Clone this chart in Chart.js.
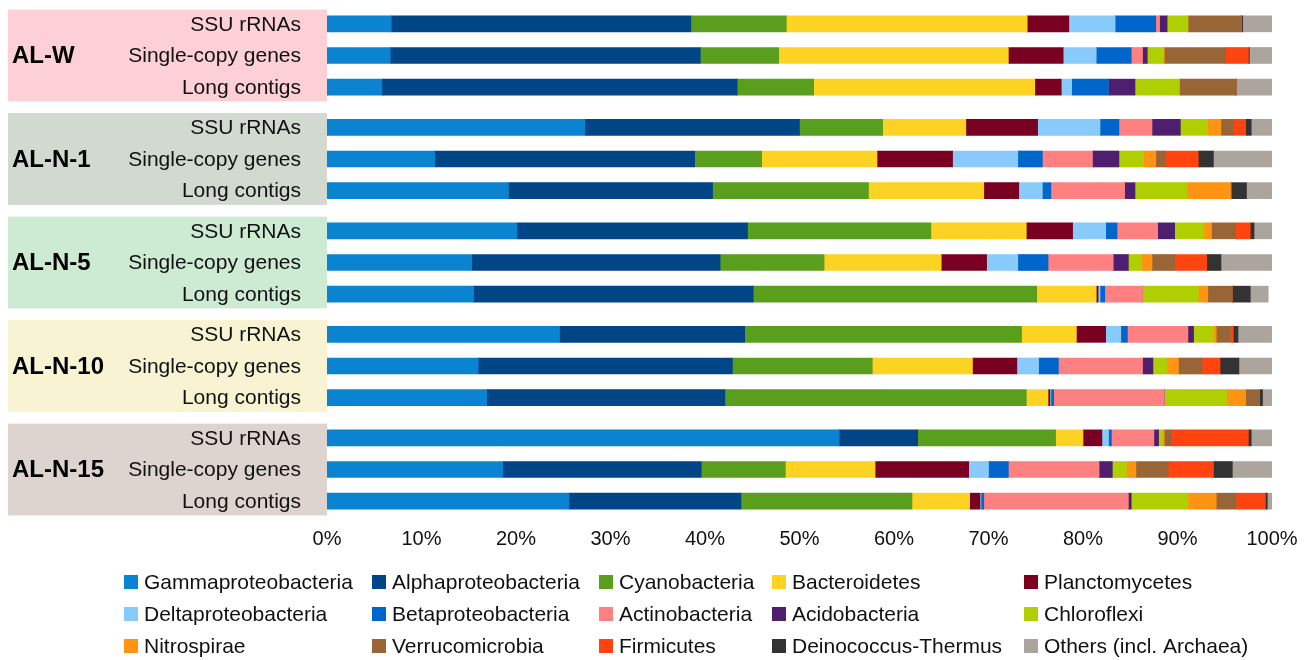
<!DOCTYPE html>
<html>
<head>
<meta charset="utf-8">
<title>AL community composition</title>
<script src="https://cdn.jsdelivr.net/npm/chart.js@4.4.1/dist/chart.umd.min.js"></script>
<style>
  html, body { margin: 0; padding: 0; background: #fff; }
  #wrap { width: 1313px; height: 660px; }
</style>
</head>
<body>
<div id="wrap"><canvas id="chart" width="1313" height="660"></canvas></div>
<script>
// Samples and methods (rows, top to bottom)
const samples = ['AL-W', 'AL-N-1', 'AL-N-5', 'AL-N-10', 'AL-N-15'];
const methods = ['SSU rRNAs', 'Single-copy genes', 'Long contigs'];
const xTicks = [0, 10, 20, 30, 40, 50, 60, 70, 80, 90, 100];

// Relative abundance (%) per taxon, one value per row (5 samples x 3 methods)
const gamma    = [6.8, 6.7, 5.8, 27.3, 11.4, 19.2, 20.1, 15.3, 15.5, 24.6, 16.0, 16.9, 54.2, 18.6, 25.6];
const alpha    = [31.7, 32.8, 37.6, 22.7, 27.5, 21.6, 24.4, 26.3, 29.6, 19.6, 26.9, 25.2, 8.3, 21.0, 18.2];
const cyano    = [10.1, 8.3, 8.1, 8.8, 7.1, 16.5, 19.4, 11.0, 30.0, 29.3, 14.8, 31.9, 14.6, 8.9, 18.1];
const bactero  = [25.5, 24.3, 23.4, 8.8, 12.2, 12.2, 10.1, 12.4, 6.3, 5.8, 10.6, 2.3, 2.9, 9.5, 6.1];
const plancto  = [4.4, 5.8, 2.8, 7.6, 8.0, 3.7, 4.9, 4.8, 0.2, 3.1, 4.7, 0.2, 2.0, 9.9, 1.1];
const delta    = [4.9, 3.5, 1.1, 6.6, 6.9, 2.5, 3.5, 3.3, 0.2, 1.6, 2.3, 0.1, 0.7, 2.1, 0.1];
const beta     = [4.3, 3.7, 3.9, 2.0, 2.6, 0.9, 1.2, 3.2, 0.5, 0.7, 2.1, 0.3, 0.3, 2.1, 0.3];
const actino   = [0.4, 1.2, 0, 3.5, 5.3, 7.8, 4.3, 6.9, 4.0, 6.4, 8.9, 11.7, 4.5, 9.6, 15.3];
const acido    = [0.8, 0.5, 2.8, 3.0, 2.8, 1.1, 1.8, 1.6, 0, 0.6, 1.1, 0, 0.5, 1.4, 0.3];
const chloro   = [2.2, 1.7, 4.7, 2.9, 2.6, 5.5, 3.1, 1.4, 5.9, 2.1, 1.5, 6.6, 0.4, 1.5, 6.0];
const nitro    = [0, 0.1, 0, 1.4, 1.3, 4.6, 0.8, 1.1, 1.0, 0.3, 1.2, 2.0, 0.2, 1.0, 3.0];
const verruco  = [5.6, 6.5, 6.0, 1.3, 1.0, 0.1, 2.5, 2.4, 2.6, 1.5, 2.5, 1.5, 0.7, 3.4, 2.1];
const firmi    = [0.1, 2.4, 0, 1.3, 3.5, 0, 1.6, 3.4, 0, 0.3, 1.9, 0, 8.2, 4.8, 3.1];
const deino    = [0.1, 0.1, 0, 0.6, 1.6, 1.6, 0.4, 1.5, 1.9, 0.5, 2.0, 0.3, 0.3, 2.0, 0.2];
const others   = [3.1, 2.4, 3.8, 2.2, 6.2, 2.7, 1.9, 5.4, 1.9, 3.6, 3.5, 1.0, 2.2, 4.2, 0.5];

const taxa = [
  'Gammaproteobacteria', 'Alphaproteobacteria', 'Cyanobacteria', 'Bacteroidetes', 'Planctomycetes',
  'Deltaproteobacteria', 'Betaproteobacteria', 'Actinobacteria', 'Acidobacteria', 'Chloroflexi',
  'Nitrospirae', 'Verrucomicrobia', 'Firmicutes', 'Deinococcus-Thermus', 'Others (incl. Archaea)'
];
const series = [gamma, alpha, cyano, bactero, plancto, delta, beta, actino, acido, chloro,
                nitro, verruco, firmi, deino, others];
const colors = [
  '#0A84D0', '#004585', '#5A9E1E', '#FDD323', '#7A0022',
  '#88CAFA', '#0066CC', '#FF8080', '#4E1F6E', '#B0CF00',
  '#FF9412', '#986636', '#FF4410', '#333333', '#ACA59E'
];
const groupBg = ['#FDCFD7', '#D1D9D1', '#CDEBD2', '#F8F4D3', '#DDD4CF'];

// row positions on the y scale: 3 rows per sample plus a small gap between samples
const GAP = 0.27;
const rowPos = [];
samples.forEach((s, g) => methods.forEach((m, i) => rowPos.push(g * (3 + GAP) + i)));

const FONT = '"Liberation Sans", Arial, sans-serif';

// Sample boxes, bold sample names and row labels (drawn before the bars)
const groupPlugin = {
  id: 'groups',
  beforeDraw(chart) {
    const ctx = chart.ctx;
    const y = chart.scales.y;
    const left = chart.chartArea.left;
    ctx.save();
    ctx.textBaseline = 'middle';
    samples.forEach((name, g) => {
      const top = y.getPixelForValue(rowPos[g * 3] - 0.45);
      const bot = y.getPixelForValue(rowPos[g * 3 + 2] + 0.45);
      ctx.fillStyle = groupBg[g];
      ctx.fillRect(8, top, left - 8, bot - top);
      ctx.fillStyle = '#000';
      ctx.font = 'bold 24px ' + FONT;
      ctx.textAlign = 'left';
      ctx.fillText(name, 12, y.getPixelForValue(rowPos[g * 3 + 1]) + 1);
    });
    ctx.font = '21px ' + FONT;
    ctx.textAlign = 'right';
    ctx.fillStyle = '#111';
    rowPos.forEach((p, r) => {
      ctx.fillText(methods[r % 3], left - 26, y.getPixelForValue(p) + 1);
    });
    ctx.restore();
  }
};

// Legend laid out as a 5 x 3 grid like the original figure
const legendCols = [124, 372, 599, 772, 1024];
const legendRows = [582, 614, 646];
const legendPlugin = {
  id: 'gridLegend',
  afterDraw(chart) {
    const ctx = chart.ctx;
    ctx.save();
    ctx.font = '21px ' + FONT;
    ctx.textAlign = 'left';
    ctx.textBaseline = 'middle';
    taxa.forEach((name, k) => {
      const x = legendCols[k % 5];
      const yy = legendRows[Math.floor(k / 5)];
      ctx.fillStyle = colors[k];
      ctx.fillRect(x, yy - 7, 14, 14);
      ctx.fillStyle = '#111';
      ctx.fillText(name, x + 20, yy + 1);
    });
    ctx.restore();
  }
};

new Chart(document.getElementById('chart'), {
  type: 'bar',
  data: {
    datasets: series.map((vals, k) => ({
      label: taxa[k],
      data: vals.map((v, r) => ({ x: v, y: rowPos[r] })),
      backgroundColor: colors[k],
      borderWidth: 0,
      barThickness: 16
    }))
  },
  options: {
    indexAxis: 'y',
    responsive: false,
    animation: false,
    layout: { padding: { left: 0, right: 41, top: 8, bottom: 103 } },
    plugins: {
      legend: { display: false },
      tooltip: { enabled: false }
    },
    scales: {
      x: {
        type: 'linear',
        stacked: true,
        min: 0,
        max: 100,
        grid: { display: false, drawTicks: false },
        border: { display: false },
        afterBuildTicks: (scale) => { scale.ticks = xTicks.map(v => ({ value: v })); },
        afterFit: (scale) => { scale.height = 40; },
        ticks: {
          padding: 10,
          color: '#111',
          font: { family: FONT, size: 20 },
          callback: (v) => v + '%'
        }
      },
      y: {
        type: 'linear',
        stacked: true,
        reverse: true,
        offset: false,
        min: -0.5,
        max: rowPos[rowPos.length - 1] + 0.5,
        grid: { display: false, drawTicks: false },
        border: { display: false },
        afterBuildTicks: (scale) => { scale.ticks = rowPos.map(v => ({ value: v })); },
        afterFit: (scale) => { scale.width = 327; },
        ticks: { display: false }
      }
    }
  },
  plugins: [groupPlugin, legendPlugin]
});
</script>
</body>
</html>
